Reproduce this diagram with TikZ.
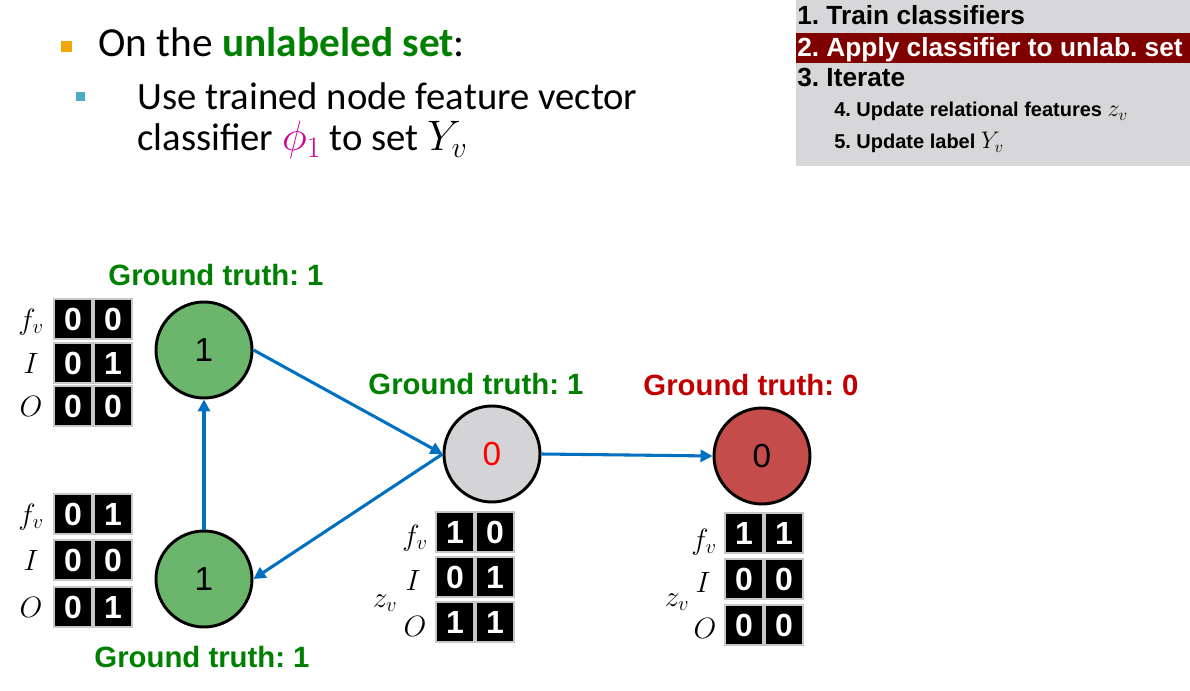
\documentclass[tikz,border=0pt]{standalone}
\usepackage{fix-cm}
\usepackage{fontspec}
\setmainfont{Liberation Sans}
\newfontfamily\calibri{Carlito}
\usetikzlibrary{arrows.meta}
\definecolor{gtgreen}{RGB}{0,128,0}
\definecolor{gtred}{RGB}{192,0,0}
\definecolor{nodegreen}{RGB}{107,181,109}
\definecolor{nodered}{RGB}{196,76,74}
\definecolor{nodegray}{RGB}{212,212,214}
\definecolor{edgeblue}{RGB}{0,112,192}
\definecolor{boxgray}{RGB}{215,215,217}
\definecolor{barred}{RGB}{128,0,0}
\definecolor{phimag}{RGB}{204,0,153}
\definecolor{bulorange}{RGB}{240,168,0}
\definecolor{bulcyan}{RGB}{75,172,198}
\newcommand\frow[5]{%
  \node[cell,anchor=east] (#1a) at (#2,#3) {#4};
  \node[cell,anchor=west] (#1b) at (#2,#3) {#5};}
\frenchspacing
\begin{document}
\begin{tikzpicture}[x=0.75pt,y=-0.75pt,
  cell/.style={fill=black,draw=black!22,line width=1.4pt,minimum width=28.5pt,minimum height=30pt,inner sep=0pt,text=white,font=\fontsize{24}{24}\selectfont\bfseries},
  gnode/.style={circle,draw=black,line width=2.2pt,minimum size=72pt,inner sep=0pt,font=\fontsize{25}{25}\selectfont},
  edge/.style={draw=edgeblue,line width=2.3pt,-{Triangle[length=9pt,width=9pt]}},
  gt/.style={font=\fontsize{22}{22}\selectfont\bfseries},
  lab/.style={inner sep=0pt,font=\fontsize{22}{22}\selectfont},
  bodytext/.style={anchor=base west,inner sep=0pt,text depth=0pt},
  boxtext/.style={anchor=base west,inner sep=0pt,font=\fontsize{19.7}{19.7}\selectfont\bfseries},
  smalltext/.style={anchor=base west,inner sep=0pt,font=\fontsize{15}{15}\selectfont\bfseries}]
\useasboundingbox (0,0) rectangle (1190,691);
% top-left bullets
\fill[bulorange] (60.5,41.5) rectangle (71.5,52.5);
\fill[bulcyan] (75.5,92.5) rectangle (84.5,101.5);
\node[bodytext,font=\calibri\fontsize{31}{31}\selectfont] (t1) at (98,57) {On the \textbf{\color{gtgreen}unlabeled set}:};
\node[bodytext,font=\calibri\fontsize{29}{29}\selectfont] (t2) at (137,110) {Use trained node feature vector};
\node[bodytext,font=\calibri\fontsize{29}{29}\selectfont,text height=22pt] (t3) at (137,151) {classifier {\fontsize{32}{32}\selectfont\color{phimag}$\phi_1$} to set {\fontsize{32}{32}\selectfont$Y_v$}};
% top-right box
\fill[boxgray] (796,0) rectangle (1190,166);
\fill[barred] (796,33) rectangle (1190,63);
\node[boxtext] (s1) at (797,25) {1. Train classifiers};
\node[boxtext,text=white] (s2) at (797,57) {2. Apply classifier to unlab. set};
\node[boxtext] (s3) at (797,87) {3. Iterate};
\node[smalltext] (s4) at (834,117) {4. Update relational features {\fontsize{18}{18}\selectfont$z_v$}};
\node[smalltext] (s5) at (834,149) {5. Update label {\fontsize{18}{18}\selectfont$Y_v$}};
% graph nodes
\node[gnode,fill=nodegreen] (tl) at (204,350) {1};
\node[gnode,fill=nodegreen] (bl) at (204,579) {1};
\node[gnode,fill=nodegray,text=red] (mid) at (492,454) {0};
\node[gnode,fill=nodered] (rt) at (762,456) {0};
% edges
\draw[edge] (bl.north) -- (tl.south);
\draw[edge] (tl.east) -- (mid.west);
\draw[edge] (mid.west) -- (bl.east);
\draw[edge] (mid.east) -- (rt.west);
% ground truth labels
\node[gt,text=gtgreen] (g1) at (216,275) {Ground truth: 1};
\node[gt,text=gtgreen] (g2) at (476,384) {Ground truth: 1};
\node[gt,text=gtred] (g3) at (751,385) {Ground truth: 0};
\node[gt,text=gtgreen] (g4) at (202,657) {Ground truth: 1};
% tables
\frow{tla}{93}{319}{0}{0}
\frow{tlb}{93}{363}{0}{1}
\frow{tlc}{93}{406}{0}{0}
\node[lab] (tlf) at (31,322) {$f_v$};
\node[lab] (tli) at (31,363) {$I$};
\node[lab] (tlo) at (31,406) {$O$};
\frow{bla}{93}{514}{0}{1}
\frow{blb}{93}{560}{0}{0}
\frow{blc}{93}{607}{0}{1}
\node[lab] (blf) at (31,517) {$f_v$};
\node[lab] (bli) at (31,560) {$I$};
\node[lab] (blo) at (31,607) {$O$};
\frow{ma}{475}{532}{1}{0}
\frow{mb}{475}{577}{0}{1}
\frow{mc}{475}{622}{1}{1}
\node[lab] (mf) at (415,538) {$f_v$};
\node[lab] (mi) at (413,580) {$I$};
\node[lab] (mo) at (415,626) {$O$};
\node[lab] (mz) at (385,603) {$z_v$};
\frow{ra}{764}{533}{1}{1}
\frow{rb}{764}{579}{0}{0}
\frow{rc}{764}{625}{0}{0}
\node[lab] (rf) at (704,542) {$f_v$};
\node[lab] (ri) at (703,582) {$I$};
\node[lab] (ro) at (705,628) {$O$};
\node[lab] (rz) at (677,602) {$z_v$};
\end{tikzpicture}
\end{document}
